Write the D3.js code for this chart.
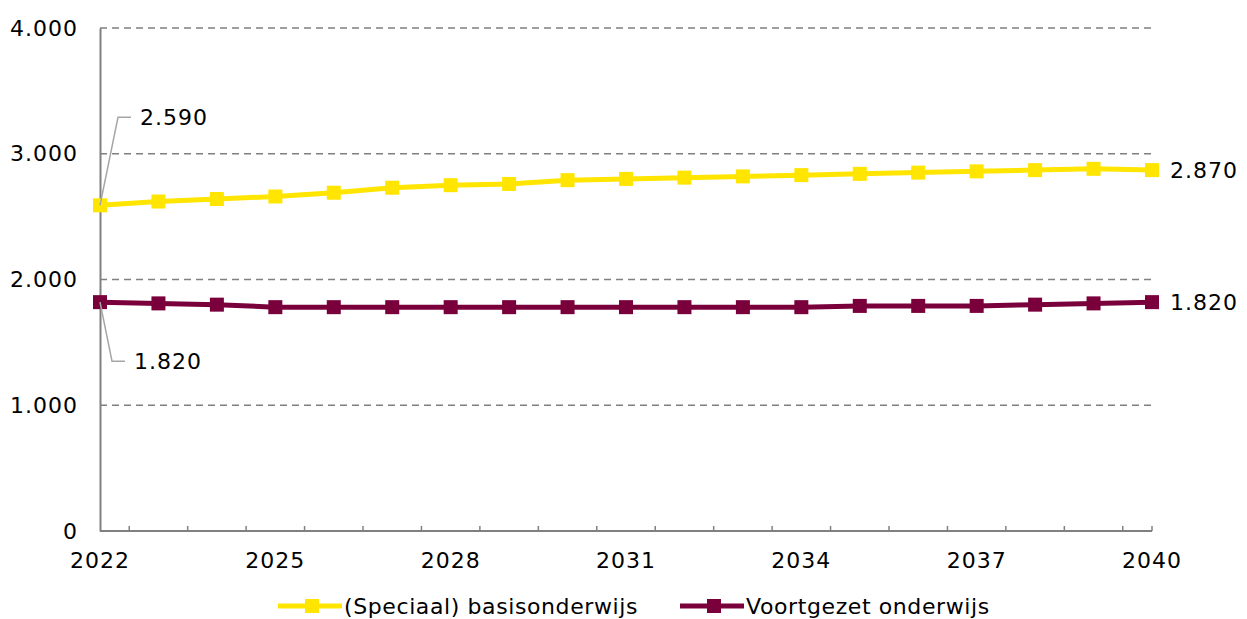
<!DOCTYPE html>
<html>
<head>
<meta charset="utf-8">
<script src="https://cdn.jsdelivr.net/npm/d3@7"></script>
<style>
  body { margin: 0; background: #fff; }
  svg text { font-family: "DejaVu Sans", sans-serif; fill: #000; }
</style>
</head>
<body>
<svg width="1247" height="619"></svg>
<script>
// data
var years = d3.range(2022, 2041);
var yearLabels = [2022, 2025, 2028, 2031, 2034, 2037, 2040];
var yTicks = [0, 1000, 2000, 3000, 4000];
var basis = [2590, 2620, 2640, 2660, 2690, 2730, 2750, 2760, 2790, 2800, 2810, 2820, 2830, 2840, 2850, 2860, 2870, 2880, 2870];
var voortgezet = [1820, 1810, 1800, 1780, 1780, 1780, 1780, 1780, 1780, 1780, 1780, 1780, 1780, 1790, 1790, 1790, 1800, 1810, 1820];
var seriesNames = ["(Speciaal) basisonderwijs", "Voortgezet onderwijs"];
var seriesColors = ["#ffe500", "#7a003c"];

var fmt = function (v) { return d3.format(",")(v).replace(/,/g, "."); };

var svg = d3.select("svg");
var plotLeft = 100, plotRight = 1152, plotTop = 28, plotBottom = 531;

var x = d3.scalePoint().domain(years).range([plotLeft, plotRight]);
var y = d3.scaleLinear().domain([0, 4000]).range([plotBottom, plotTop]);
var step = x.step();

// gridlines
svg.append("g").selectAll("line")
    .data(yTicks.filter(function (d) { return d > 0; }))
    .enter().append("line")
    .attr("x1", plotLeft).attr("x2", plotRight)
    .attr("y1", function (d) { return y(d); })
    .attr("y2", function (d) { return y(d); })
    .attr("stroke", "#808080")
    .attr("stroke-width", 1.3)
    .attr("stroke-dasharray", "7,5");

// y axis
var yAxis = svg.append("g")
    .attr("transform", "translate(" + plotLeft + ",0)")
    .call(d3.axisLeft(y).tickValues(yTicks).tickSize(0).tickPadding(22).tickFormat(fmt));
yAxis.select(".domain").attr("stroke", "#808080").attr("stroke-width", 2);
yAxis.selectAll("text").style("font-size", "22px").style("letter-spacing", "1px").attr("fill", "#000");

// x axis, ticks between categories pointing up
var between = years.slice(0, -1).map(function (d) { return x(d) + step / 2; });
between.push(plotRight);
var xg = svg.append("g");
xg.append("line")
    .attr("x1", plotLeft).attr("x2", plotRight)
    .attr("y1", plotBottom).attr("y2", plotBottom)
    .attr("stroke", "#808080").attr("stroke-width", 2);
xg.selectAll(".tk").data(between).enter().append("line")
    .attr("x1", function (d) { return d; }).attr("x2", function (d) { return d; })
    .attr("y1", plotBottom).attr("y2", plotBottom - 5)
    .attr("stroke", "#808080").attr("stroke-width", 1.5);
xg.selectAll("text").data(yearLabels).enter().append("text")
    .attr("x", function (d) { return x(d); })
    .attr("y", plotBottom + 37)
    .attr("text-anchor", "middle")
    .style("font-size", "22px")
    .style("letter-spacing", "1px")
    .text(function (d) { return d; });

// lines
var allSeries = [basis, voortgezet];
var line = d3.line()
    .x(function (d, i) { return x(years[i]); })
    .y(function (d) { return y(d); });

allSeries.forEach(function (s, k) {
    var g = svg.append("g");
    g.append("path")
        .datum(s)
        .attr("fill", "none")
        .attr("stroke", seriesColors[k])
        .attr("stroke-width", 5)
        .attr("d", line);
    g.selectAll("rect").data(s).enter().append("rect")
        .attr("x", function (d, i) { return x(years[i]) - 7; })
        .attr("y", function (d) { return y(d) - 7; })
        .attr("width", 14).attr("height", 14)
        .attr("fill", seriesColors[k]);
});

// start labels with leader lines
var leaders = [
    { v: basis[0], dx: 18, dy: -88, label: fmt(basis[0]) },
    { v: voortgezet[0], dx: 12, dy: 59, label: fmt(voortgezet[0]) }
];
leaders.forEach(function (l) {
    var x0 = x(years[0]), y0 = y(l.v);
    svg.append("polyline")
        .attr("points", [x0, y0, x0 + l.dx, y0 + l.dy, x0 + l.dx + 13, y0 + l.dy].join(" "))
        .attr("fill", "none")
        .attr("stroke", "#a6a6a6")
        .attr("stroke-width", 1.5);
    svg.append("text")
        .attr("x", x0 + l.dx + 22)
        .attr("y", y0 + l.dy)
        .attr("dy", "0.35em")
        .style("font-size", "22px")
        .style("letter-spacing", "1px")
        .text(l.label);
});

// end labels
allSeries.forEach(function (s) {
    svg.append("text")
        .attr("x", plotRight + 18)
        .attr("y", y(s[s.length - 1]))
        .attr("dy", "0.35em")
        .style("font-size", "22px")
        .style("letter-spacing", "1px")
        .text(fmt(s[s.length - 1]));
});

// legend
var legendX = [278, 680];
seriesNames.forEach(function (name, k) {
    var g = svg.append("g").attr("transform", "translate(" + legendX[k] + ",606)");
    g.append("line").attr("x1", 0).attr("x2", 64).attr("y1", 0).attr("y2", 0)
        .attr("stroke", seriesColors[k]).attr("stroke-width", 5);
    g.append("rect").attr("x", 27).attr("y", -7).attr("width", 14).attr("height", 14)
        .attr("fill", seriesColors[k]);
    g.append("text").attr("x", 66).attr("y", 0).attr("dy", "0.35em")
        .style("font-size", "22px")
        .style("letter-spacing", "0.6px")
        .text(name);
});
</script>
</body>
</html>
